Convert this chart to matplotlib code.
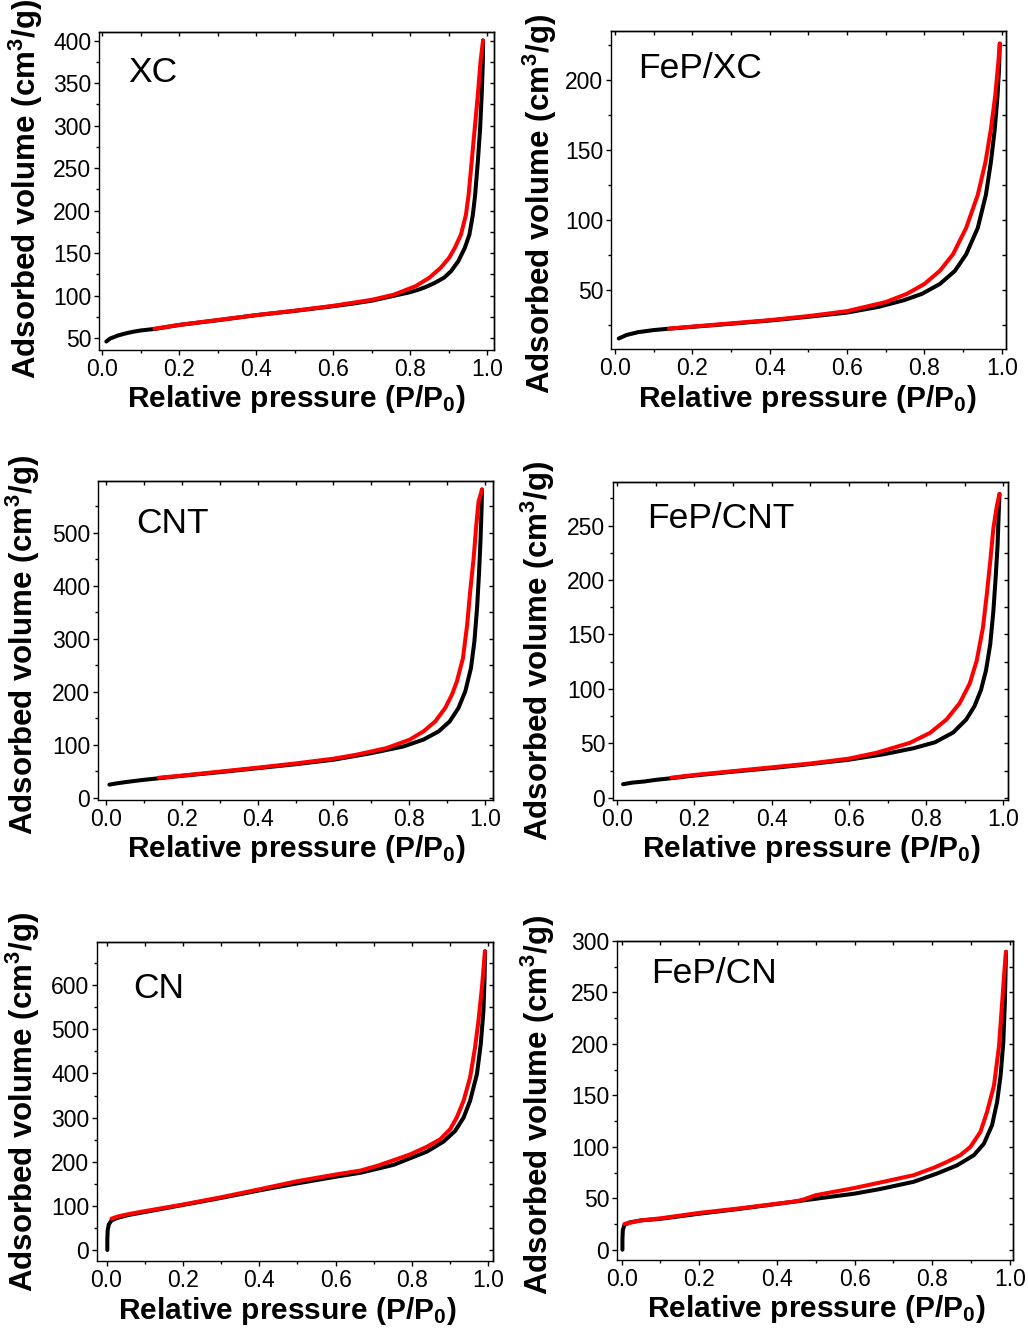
import matplotlib
matplotlib.use("Agg")
import matplotlib.pyplot as plt
from matplotlib.ticker import MultipleLocator, FormatStrFormatter

plt.rcParams["font.family"] = ["Liberation Sans", "DejaVu Sans"]
plt.rcParams["mathtext.fontset"] = "custom"
plt.rcParams["mathtext.rm"] = "Liberation Sans:bold"
plt.rcParams["mathtext.bf"] = "Liberation Sans:bold"
plt.rcParams["mathtext.it"] = "Liberation Sans:bold:italic"
plt.rcParams["mathtext.default"] = "rm"

# N2 isotherms: adsorption branch (black) and desorption branch (red)
xc_ads_p = [0.01, 0.02, 0.04, 0.06, 0.08, 0.10, 0.14, 0.2, 0.3, 0.4, 0.5, 0.6, 0.65, 0.7,
            0.75, 0.8, 0.822, 0.84, 0.862, 0.888, 0.906, 0.925, 0.942, 0.954, 0.963, 0.969,
            0.976, 0.982, 0.986, 0.989, 0.9895]
xc_ads_v = [46, 49.5, 53, 55.5, 57.5, 59, 61, 65.5, 71, 77, 82, 87.5, 90.5, 94,
            99, 104, 107, 110, 114.5, 121, 128.5, 140.3, 156, 171.6, 195, 218.6,
            257.8, 297, 336.2, 375, 400]
xc_des_p = [0.9895, 0.983, 0.976, 0.968, 0.96, 0.952, 0.945, 0.932, 0.916, 0.901, 0.879,
            0.849, 0.814, 0.757, 0.7, 0.6, 0.5, 0.4, 0.3, 0.2, 0.135]
xc_des_v = [400, 375.3, 336.2, 297, 257.8, 218.6, 195, 171.6, 156, 144.2, 132.5,
            120.7, 111, 101, 95, 88, 82.2, 77, 71.3, 65.5, 61]

fxc_ads_p = [0.01, 0.03, 0.06, 0.1, 0.14, 0.2, 0.3, 0.4, 0.5, 0.6, 0.68, 0.747, 0.794,
             0.84, 0.879, 0.908, 0.938, 0.959, 0.972, 0.982, 0.989, 0.993, 0.995]
fxc_ads_v = [15.5, 18, 20, 21.5, 22.5, 23.8, 26, 28.3, 31, 34, 38, 42.8, 47.4,
             54.4, 63.8, 75.6, 94.4, 118, 141.5, 165, 188.5, 208, 226]
fxc_des_p = [0.995, 0.991, 0.983, 0.972, 0.958, 0.938, 0.908, 0.874, 0.84, 0.80, 0.755,
             0.70, 0.6, 0.5, 0.4, 0.3, 0.2, 0.14]
fxc_des_v = [226, 212, 188.5, 165, 141.5, 118, 94.4, 75.6, 63.8, 54.4, 47.4,
             41.5, 35, 31.5, 28.6, 26.3, 24, 22.5]

cnt_ads_p = [0.01, 0.03, 0.055, 0.1, 0.14, 0.2, 0.3, 0.4, 0.5, 0.6, 0.7, 0.784, 0.837,
             0.877, 0.906, 0.929, 0.947, 0.962, 0.971, 0.978, 0.983, 0.987, 0.99, 0.991]
cnt_ads_v = [25, 27.5, 30, 34, 37, 41.5, 48.5, 56, 63.5, 72, 84.5, 97, 110,
             125.5, 144.3, 169.5, 201, 245, 295, 358, 421, 484, 547, 582]
cnt_des_p = [0.991, 0.982, 0.976, 0.969, 0.96, 0.952, 0.941, 0.925, 0.912, 0.894, 0.868,
             0.837, 0.801, 0.74, 0.66, 0.6, 0.5, 0.4, 0.3, 0.2, 0.14]
cnt_des_v = [582, 559, 515, 452, 390, 327, 264, 220, 195, 169.5, 144.3,
             125.5, 110, 94, 81.4, 74, 65, 57, 49.5, 42, 38]

fcnt_ads_p = [0.015, 0.04, 0.07, 0.1, 0.14, 0.2, 0.3, 0.4, 0.5, 0.6, 0.69, 0.767, 0.823,
              0.87, 0.904, 0.925, 0.942, 0.955, 0.966, 0.974, 0.98, 0.985, 0.988, 0.99]
fcnt_ads_v = [12.5, 14, 15, 16.5, 18, 20.5, 24, 27.3, 31, 35, 40, 45.5, 51,
              60, 72, 84, 99, 117, 141, 171, 202, 232, 262, 279]
fcnt_des_p = [0.99, 0.983, 0.974, 0.966, 0.957, 0.947, 0.931, 0.913, 0.887, 0.853, 0.81,
              0.758, 0.673, 0.6, 0.5, 0.4, 0.3, 0.2, 0.14]
fcnt_des_v = [279, 268, 247, 217, 186.5, 156, 126, 105, 87, 72, 59.6,
              50.5, 41.5, 36, 31.5, 28, 24.5, 21, 18.5]

cn_ads_p = [0.002, 0.002, 0.003, 0.006, 0.013, 0.03, 0.056, 0.1, 0.2, 0.3, 0.4, 0.5, 0.6,
            0.665, 0.752, 0.839, 0.883, 0.913, 0.935, 0.952, 0.97, 0.98, 0.987, 0.99, 0.991]
cn_ads_v = [0, 25, 45, 58, 67, 73, 79, 86, 102, 118, 135, 151, 166,
            175, 193, 223, 246, 270, 300, 338, 399, 467, 542, 620, 677]
cn_des_p = [0.991, 0.983, 0.974, 0.965, 0.952, 0.935, 0.917, 0.9, 0.874, 0.839, 0.796,
            0.752, 0.709, 0.665, 0.6, 0.5, 0.4, 0.3, 0.2, 0.1, 0.056, 0.03, 0.013]
cn_des_v = [677, 595, 520, 459, 391, 338, 300, 274, 251, 234, 217,
            203.5, 190.7, 180, 171, 156, 137.5, 119.5, 103, 88, 81, 76, 71]

fcn_ads_p = [0.002, 0.002, 0.003, 0.007, 0.02, 0.05, 0.1, 0.2, 0.3, 0.4, 0.5, 0.6, 0.666,
             0.752, 0.812, 0.864, 0.907, 0.933, 0.954, 0.967, 0.976, 0.983, 0.987, 0.99]
fcn_ads_v = [0, 10, 19, 24, 26.5, 28.5, 30, 35, 39.5, 44.5, 49.5, 54.5, 59,
             66, 74, 82, 91.8, 103, 121, 143.4, 169, 201.5, 240, 289.5]
fcn_des_p = [0.99, 0.986, 0.98, 0.972, 0.959, 0.941, 0.924, 0.898, 0.872, 0.838, 0.803,
             0.752, 0.666, 0.6, 0.55, 0.5, 0.47, 0.45, 0.4, 0.3, 0.2, 0.1, 0.05, 0.007]
fcn_des_v = [289.5, 272, 240, 198, 159.5, 133.7, 114.4, 99.8, 91.8, 85.3, 79.5,
             72.4, 65.3, 60, 56.5, 53, 49, 47, 44.7, 40, 35.8, 30.5, 28.5, 25]

samples = ["XC", "FeP/XC", "CNT", "FeP/CNT", "CN", "FeP/CN"]
ads_p = [xc_ads_p, fxc_ads_p, cnt_ads_p, fcnt_ads_p, cn_ads_p, fcn_ads_p]
ads_v = [xc_ads_v, fxc_ads_v, cnt_ads_v, fcnt_ads_v, cn_ads_v, fcn_ads_v]
des_p = [xc_des_p, fxc_des_p, cnt_des_p, fcnt_des_p, cn_des_p, fcn_des_p]
des_v = [xc_des_v, fxc_des_v, cnt_des_v, fcnt_des_v, cn_des_v, fcn_des_v]
y_major = [50, 50, 100, 50, 100, 50]

# panel layout in pixels: left, top, right, bottom
W, H = 1028, 1330
boxes = [(99, 32, 494, 350), (611, 31, 1006, 349),
         (98, 481, 493, 800), (613, 482, 1008, 800),
         (97, 942, 493, 1261), (617, 941, 1013, 1260)]
xlims = [(-0.009, 1.018), (-0.01, 1.011), (-0.02, 1.02),
         (-0.011, 1.012), (-0.025, 1.012), (-0.012, 1.008)]
ylims = [(36, 410), (8, 235), (-4, 598), (-2, 290), (-25, 698), (-10, 300)]
name_pos = [(0.073, 0.843), (0.068, 0.852), (0.096, 0.837),
            (0.086, 0.855), (0.091, 0.824), (0.086, 0.868)]
ylab_pos = [(-0.136, 0.506), (-0.131, 0.456), (-0.141, 0.486),
            (-0.141, 0.468), (-0.138, 0.50), (-0.151, 0.486)]
xlab_pos = [(0.50, -0.104), (0.497, -0.107), (0.501, -0.103),
            (0.503, -0.104), (0.48, -0.107), (0.503, -0.103)]

fig = plt.figure(figsize=(W / 100, H / 100), dpi=100)

for i in range(6):
    l, t, r, b = boxes[i]
    ax = fig.add_axes([l / W, 1 - b / H, (r - l) / W, (b - t) / H])

    ax.plot(ads_p[i], ads_v[i], color="black", lw=2.9, solid_capstyle="round",
            solid_joinstyle="round", zorder=3)
    ax.plot(des_p[i], des_v[i], color="#ff0000", lw=2.9, solid_capstyle="round",
            solid_joinstyle="round", zorder=4)

    ax.set_xlim(*xlims[i])
    ax.set_ylim(*ylims[i])
    ax.xaxis.set_major_locator(MultipleLocator(0.2))
    ax.xaxis.set_minor_locator(MultipleLocator(0.1))
    ax.xaxis.set_major_formatter(FormatStrFormatter("%.1f"))
    ax.yaxis.set_major_locator(MultipleLocator(y_major[i]))
    ax.yaxis.set_minor_locator(MultipleLocator(y_major[i] / 2))
    ax.tick_params(which="both", direction="out", labelsize=16.5, width=1, pad=2)
    ax.tick_params(which="major", length=3.5)
    ax.tick_params(which="minor", length=2)

    # mirrored ticks pointing inwards on top and right
    top = ax.secondary_xaxis("top")
    top.xaxis.set_major_locator(MultipleLocator(0.1))
    top.tick_params(direction="in", length=3, width=1, labeltop=False)
    right = ax.secondary_yaxis("right")
    right.yaxis.set_major_locator(MultipleLocator(y_major[i] / 2))
    right.tick_params(direction="in", length=3, width=1, labelright=False)

    for sp in list(ax.spines.values()) + [top.spines["top"], right.spines["right"]]:
        sp.set_linewidth(1.0)

    ax.set_xlabel("Relative pressure (P/P$_0$)", fontsize=21.5, fontweight="bold")
    ax.set_ylabel("Adsorbed volume (cm$^3$/g)", fontsize=22.5, fontweight="bold")
    ax.xaxis.set_label_coords(*xlab_pos[i])
    ax.yaxis.set_label_coords(*ylab_pos[i])

    ax.text(name_pos[i][0], name_pos[i][1], samples[i], transform=ax.transAxes,
            fontsize=25.5, ha="left", va="baseline")

fig.savefig("out.png", dpi=100)
